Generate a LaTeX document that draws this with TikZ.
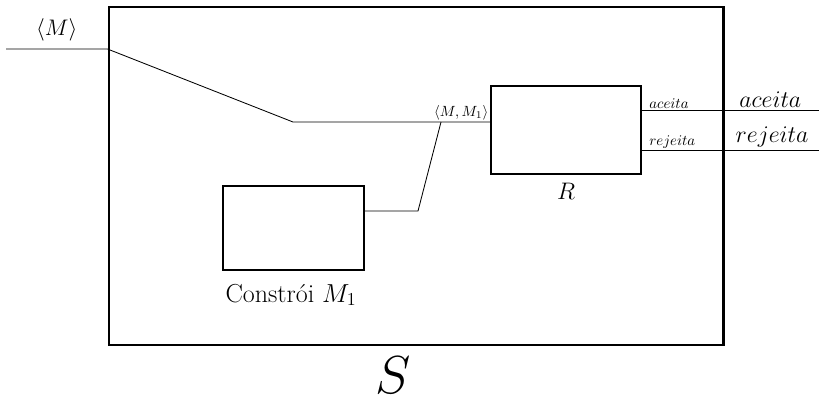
\RequirePackage{fix-cm}
\documentclass[tikz,border=0pt]{standalone}
\usepackage{amsmath}
\usetikzlibrary{positioning}
\begin{document}
\begin{tikzpicture}[x=0.025cm,y=-0.025cm,
    outerbox/.style={draw, line width=2pt, minimum width=15.35cm, minimum height=8.45cm, inner sep=0pt},
    machbox/.style={draw, line width=1.2pt, inner sep=0pt},
    wire/.style={line width=0.6pt},
    tinylbl/.style={font=\fontsize{10.5}{12}\selectfont, inner sep=1pt},
    biglbl/.style={font=\fontsize{17}{20}\selectfont, inner sep=1.5pt}]
      \useasboundingbox (0,0) rectangle (819,402);
      % boxes
      \node[outerbox] (sbox) at (416,176) {};
      \node[machbox, minimum width=3.75cm, minimum height=2.2cm] (rbox) at (566,130) {};
      \node[machbox, minimum width=3.525cm, minimum height=2.1cm] (cbox) at (293.5,228) {};
      % box labels
      \coordinate (rbase) at (566,199);
      \coordinate (cbase) at (291,302);
      \coordinate (sbase) at (393,393);
      \node[anchor=base, font=\fontsize{17}{20}\selectfont] (rlbl) at (rbase) {$R$};
      \node[anchor=base, font=\fontsize{18.5}{21}\selectfont] (clbl) at (cbase) {Constr\'oi $M_1$};
      \node[anchor=base, inner sep=0pt, font=\fontsize{38}{42}\selectfont] (slbl) at (sbase) {$S$};
      % wires
      \coordinate (min) at (6,49);
      \coordinate (bend) at (293,122);
      \coordinate (fork) at (441,122);
      \coordinate (knee) at (418,211);
      \coordinate (acc) at (819,110);
      \coordinate (rej) at (819,150);
      \draw[wire] (min) -- node[above=2pt, font=\fontsize{16}{18}\selectfont] {$\langle M\rangle$} (min -| sbox.west)
        -- (bend) -- (rbox.west |- bend) node[tinylbl, above left] {$\langle M,M_1\rangle$};
      \draw[wire] (cbox.east |- knee) -- (knee) -- (fork);
      \draw[wire] (rbox.east |- acc) node[tinylbl, above right, xshift=4pt] {$aceita$} -- (acc)
        node[biglbl, pos=0.725, above] {$aceita$};
      \draw[wire] (rbox.east |- rej) node[tinylbl, above right, xshift=4pt] {$rejeita$} -- (rej)
        node[biglbl, pos=0.735, above] {$rejeita$};
\end{tikzpicture}
\end{document}
